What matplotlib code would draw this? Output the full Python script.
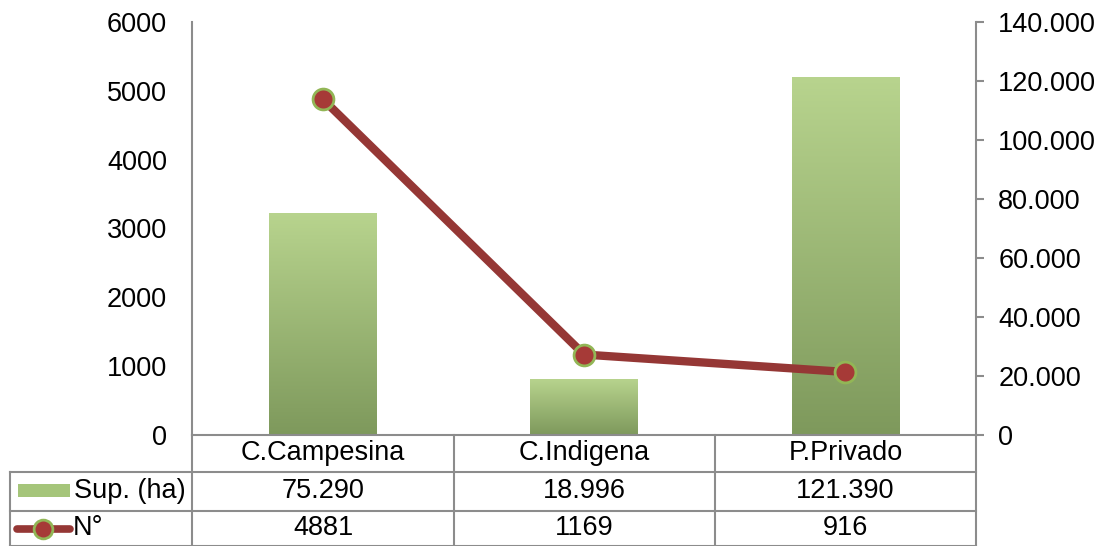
import matplotlib
matplotlib.use("Agg")
import matplotlib.pyplot as plt
import numpy as np
from matplotlib.ticker import FuncFormatter
from matplotlib.colors import LinearSegmentedColormap
from matplotlib.lines import Line2D
from matplotlib.patches import Rectangle

categories = ["C.Campesina", "C.Indigena", "P.Privado"]
sup_ha = [75290, 18996, 121390]
sup_labels = ["75.290", "18.996", "121.390"]
n_vals = [4881, 1169, 916]
n_labels = ["4881", "1169", "916"]
series_names = ["Sup. (ha)", "N°"]

plt.rcParams['font.family'] = ['Liberation Sans', 'DejaVu Sans']
W, H = 1101, 546
fig = plt.figure(figsize=(W / 100, H / 100), dpi=100)
fig.patch.set_facecolor("white")

x0, x1, y0, y1 = 192, 976, 22, 435
ax = fig.add_axes([x0 / W, 1 - y1 / H, (x1 - x0) / W, (y1 - y0) / H])
ax2 = ax.twinx()
ax.set_zorder(ax2.get_zorder() + 1)
ax.patch.set_visible(False)

gray = "#8c8c8c"
xs = np.arange(len(categories))
ax.set_xlim(-0.5, len(categories) - 0.5)
ax.set_ylim(0, 6000)

cmap = LinearSegmentedColormap.from_list("g", ["#7e995c", "#b8d48e"])
grad = np.linspace(0, 1, 256).reshape(-1, 1)
bars = ax2.bar(xs, sup_ha, width=0.41, color="none", edgecolor="none", zorder=2)
for b in bars:
    bx, by, bw, bh = b.get_x(), b.get_y(), b.get_width(), b.get_height()
    im = ax2.imshow(grad, extent=[bx, bx + bw, by, by + bh], origin="lower",
                    cmap=cmap, aspect="auto", zorder=2)
    im.set_clip_path(b)
ax2.set_xlim(-0.5, len(categories) - 0.5)
ax2.set_ylim(0, 140000)

ax.plot(xs, n_vals, color="#953735", lw=6, solid_capstyle="round", zorder=3,
        marker="o", markersize=15, markerfacecolor="#a63a37",
        markeredgecolor="#92b656", markeredgewidth=2)

for a in (ax, ax2):
    a.spines["top"].set_visible(False)
ax.spines["right"].set_visible(False)
ax2.spines["left"].set_visible(False)
ax2.spines["bottom"].set_visible(False)
ax.spines["left"].set_color(gray)
ax.spines["bottom"].set_color(gray)
ax2.spines["right"].set_color(gray)
for sp in ("left", "bottom"):
    ax.spines[sp].set_linewidth(1.5)
ax2.spines["right"].set_linewidth(1.5)

fs = 19.5
ax.set_yticks(np.arange(0, 6001, 1000))
ax.tick_params(axis="y", length=0, labelsize=fs, pad=18, labelcolor="black")
ax.set_xticks([])
ax2.set_yticks(np.arange(0, 140001, 20000))
ax2.yaxis.set_major_formatter(FuncFormatter(lambda v, p: "0" if v == 0 else f"{int(v):,}".replace(",", ".")))
ax2.tick_params(axis="y", length=6, width=1.5, color=gray, labelsize=fs, pad=10, labelcolor="black")

# Data table
def fx(px):
    return px / W

def fy(py):
    return 1 - py / H

col_x = [192, 454, 715, 976]
tl = 10
lc = gray
lw = 1.5
for yy in (472, 511, 546):
    fig.add_artist(Line2D([fx(tl), fx(976)], [fy(yy), fy(yy)], color=lc, lw=lw))
fig.add_artist(Line2D([fx(tl), fx(tl)], [fy(472), fy(546)], color=lc, lw=lw))
for cx in col_x:
    fig.add_artist(Line2D([fx(cx), fx(cx)], [fy(435), fy(546)], color=lc, lw=lw))

for i, c in enumerate(categories):
    cxm = (col_x[i] + col_x[i + 1]) / 2
    fig.text(fx(cxm), fy(453), c, ha="center", va="center", fontsize=fs)
    fig.text(fx(cxm), fy(491), sup_labels[i], ha="center", va="center", fontsize=fs)
    fig.text(fx(cxm), fy(528), n_labels[i], ha="center", va="center", fontsize=fs)

# legend keys
fig.add_artist(Rectangle((fx(18), fy(497)), fx(70) - fx(18), fy(484) - fy(497),
                         facecolor="#a5c57a", edgecolor="none"))
fig.text(fx(74), fy(491), series_names[0], ha="left", va="center", fontsize=fs)
fig.add_artist(Line2D([fx(17), fx(70)], [fy(529), fy(529)], color="#953735", lw=5.5,
                      solid_capstyle="round"))
fig.add_artist(Line2D([fx(43)], [fy(529)], marker="o", markersize=13.5,
                      markerfacecolor="#a63a37", markeredgecolor="#92b656",
                      markeredgewidth=2, lw=0))
fig.text(fx(73), fy(528), series_names[1], ha="left", va="center", fontsize=fs)

fig.savefig("out.png", dpi=100, facecolor="white")
